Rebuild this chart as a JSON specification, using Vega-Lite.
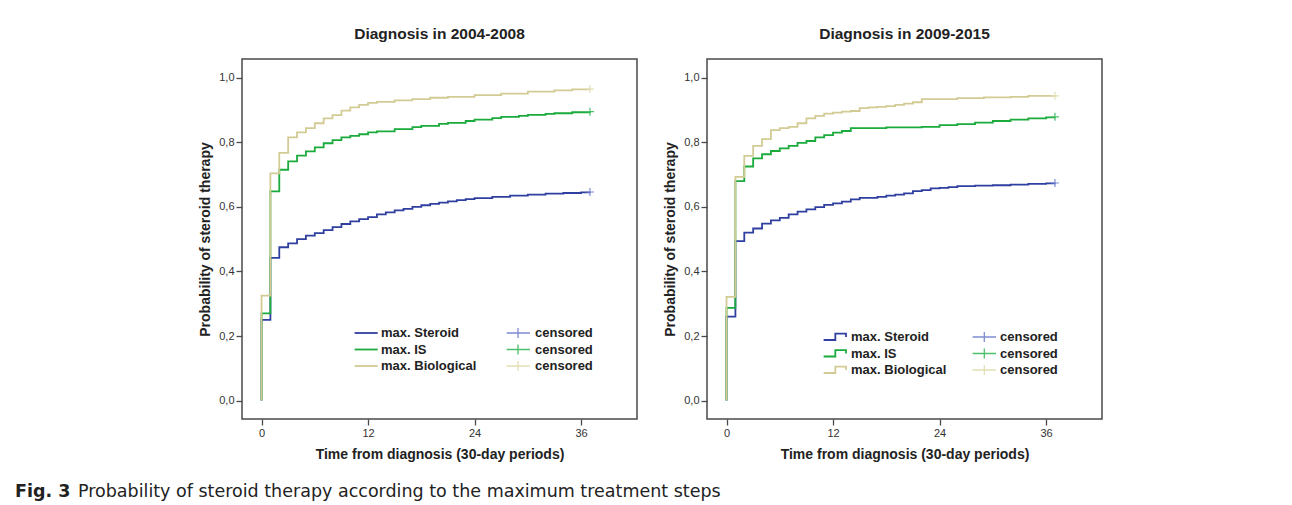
{
  "$schema": "https://vega.github.io/schema/vega-lite/v6.json",
  "padding": {"left": 14, "top": 25, "right": 5, "bottom": 5},
  "background": "white",
  "config": {
    "font": "Liberation Sans",
    "view": {"stroke": "#4a4a4a", "strokeWidth": 1.5},
    "axis": {"domain": false, "grid": false, "tickColor": "#4a4a4a", "tickSize": 6, "tickWidth": 1.3, "labelFont": "Liberation Sans", "labelFontSize": 11, "labelColor": "#333333", "labelPadding": 2, "titleFont": "Liberation Sans", "titleFontSize": 14, "titleFontWeight": "bold", "titleColor": "#222222"},
    "legend": {"padding": 0, "labelFont": "Liberation Sans", "labelFontSize": 13, "labelFontWeight": "bold", "labelColor": "#222222", "title": null, "symbolStrokeWidth": 2, "symbolSize": 144, "rowPadding": 2.5},
    "title": {"font": "Liberation Sans", "fontSize": 15.5, "fontWeight": "bold", "color": "#222222"},
    "line": {"interpolate": "step-after", "strokeWidth": 1.8}
  },
  "datasets": {
    "km": [
      {"p": "2004-2008", "g": "max. Steroid", "t": 0, "v": 0},
      {"p": "2004-2008", "g": "max. Steroid", "t": 0, "v": 0.25},
      {"p": "2004-2008", "g": "max. Steroid", "t": 1, "v": 0.442},
      {"p": "2004-2008", "g": "max. Steroid", "t": 2, "v": 0.475},
      {"p": "2004-2008", "g": "max. Steroid", "t": 3, "v": 0.487},
      {"p": "2004-2008", "g": "max. Steroid", "t": 4, "v": 0.5},
      {"p": "2004-2008", "g": "max. Steroid", "t": 5, "v": 0.511},
      {"p": "2004-2008", "g": "max. Steroid", "t": 6, "v": 0.519},
      {"p": "2004-2008", "g": "max. Steroid", "t": 7, "v": 0.528},
      {"p": "2004-2008", "g": "max. Steroid", "t": 8, "v": 0.537},
      {"p": "2004-2008", "g": "max. Steroid", "t": 9, "v": 0.547},
      {"p": "2004-2008", "g": "max. Steroid", "t": 10, "v": 0.555},
      {"p": "2004-2008", "g": "max. Steroid", "t": 11, "v": 0.562},
      {"p": "2004-2008", "g": "max. Steroid", "t": 12, "v": 0.568},
      {"p": "2004-2008", "g": "max. Steroid", "t": 13, "v": 0.577},
      {"p": "2004-2008", "g": "max. Steroid", "t": 14, "v": 0.583},
      {"p": "2004-2008", "g": "max. Steroid", "t": 15, "v": 0.589},
      {"p": "2004-2008", "g": "max. Steroid", "t": 16, "v": 0.594},
      {"p": "2004-2008", "g": "max. Steroid", "t": 17, "v": 0.6},
      {"p": "2004-2008", "g": "max. Steroid", "t": 18, "v": 0.605},
      {"p": "2004-2008", "g": "max. Steroid", "t": 19, "v": 0.609},
      {"p": "2004-2008", "g": "max. Steroid", "t": 20, "v": 0.613},
      {"p": "2004-2008", "g": "max. Steroid", "t": 21, "v": 0.617},
      {"p": "2004-2008", "g": "max. Steroid", "t": 22, "v": 0.621},
      {"p": "2004-2008", "g": "max. Steroid", "t": 23, "v": 0.624},
      {"p": "2004-2008", "g": "max. Steroid", "t": 24, "v": 0.627},
      {"p": "2004-2008", "g": "max. Steroid", "t": 26, "v": 0.631},
      {"p": "2004-2008", "g": "max. Steroid", "t": 28, "v": 0.635},
      {"p": "2004-2008", "g": "max. Steroid", "t": 30, "v": 0.638},
      {"p": "2004-2008", "g": "max. Steroid", "t": 32, "v": 0.641},
      {"p": "2004-2008", "g": "max. Steroid", "t": 34, "v": 0.643},
      {"p": "2004-2008", "g": "max. Steroid", "t": 36, "v": 0.645},
      {"p": "2004-2008", "g": "max. Steroid", "t": 37, "v": 0.646},
      {"p": "2004-2008", "g": "max. IS", "t": 0, "v": 0},
      {"p": "2004-2008", "g": "max. IS", "t": 0, "v": 0.27},
      {"p": "2004-2008", "g": "max. IS", "t": 1, "v": 0.648},
      {"p": "2004-2008", "g": "max. IS", "t": 2, "v": 0.715},
      {"p": "2004-2008", "g": "max. IS", "t": 3, "v": 0.741},
      {"p": "2004-2008", "g": "max. IS", "t": 4, "v": 0.759},
      {"p": "2004-2008", "g": "max. IS", "t": 5, "v": 0.772},
      {"p": "2004-2008", "g": "max. IS", "t": 6, "v": 0.784},
      {"p": "2004-2008", "g": "max. IS", "t": 7, "v": 0.797},
      {"p": "2004-2008", "g": "max. IS", "t": 8, "v": 0.807},
      {"p": "2004-2008", "g": "max. IS", "t": 9, "v": 0.815},
      {"p": "2004-2008", "g": "max. IS", "t": 10, "v": 0.82},
      {"p": "2004-2008", "g": "max. IS", "t": 11, "v": 0.825},
      {"p": "2004-2008", "g": "max. IS", "t": 12, "v": 0.831},
      {"p": "2004-2008", "g": "max. IS", "t": 13, "v": 0.834},
      {"p": "2004-2008", "g": "max. IS", "t": 15, "v": 0.841},
      {"p": "2004-2008", "g": "max. IS", "t": 17, "v": 0.847},
      {"p": "2004-2008", "g": "max. IS", "t": 18, "v": 0.851},
      {"p": "2004-2008", "g": "max. IS", "t": 20, "v": 0.857},
      {"p": "2004-2008", "g": "max. IS", "t": 21, "v": 0.86},
      {"p": "2004-2008", "g": "max. IS", "t": 23, "v": 0.866},
      {"p": "2004-2008", "g": "max. IS", "t": 24, "v": 0.87},
      {"p": "2004-2008", "g": "max. IS", "t": 26, "v": 0.875},
      {"p": "2004-2008", "g": "max. IS", "t": 27, "v": 0.879},
      {"p": "2004-2008", "g": "max. IS", "t": 29, "v": 0.882},
      {"p": "2004-2008", "g": "max. IS", "t": 30, "v": 0.885},
      {"p": "2004-2008", "g": "max. IS", "t": 32, "v": 0.888},
      {"p": "2004-2008", "g": "max. IS", "t": 33, "v": 0.89},
      {"p": "2004-2008", "g": "max. IS", "t": 35, "v": 0.893},
      {"p": "2004-2008", "g": "max. IS", "t": 37, "v": 0.895},
      {"p": "2004-2008", "g": "max. Biological", "t": 0, "v": 0},
      {"p": "2004-2008", "g": "max. Biological", "t": 0, "v": 0.325},
      {"p": "2004-2008", "g": "max. Biological", "t": 1, "v": 0.704},
      {"p": "2004-2008", "g": "max. Biological", "t": 2, "v": 0.767},
      {"p": "2004-2008", "g": "max. Biological", "t": 3, "v": 0.815},
      {"p": "2004-2008", "g": "max. Biological", "t": 4, "v": 0.831},
      {"p": "2004-2008", "g": "max. Biological", "t": 5, "v": 0.844},
      {"p": "2004-2008", "g": "max. Biological", "t": 6, "v": 0.859},
      {"p": "2004-2008", "g": "max. Biological", "t": 7, "v": 0.874},
      {"p": "2004-2008", "g": "max. Biological", "t": 8, "v": 0.884},
      {"p": "2004-2008", "g": "max. Biological", "t": 9, "v": 0.898},
      {"p": "2004-2008", "g": "max. Biological", "t": 10, "v": 0.908},
      {"p": "2004-2008", "g": "max. Biological", "t": 11, "v": 0.916},
      {"p": "2004-2008", "g": "max. Biological", "t": 12, "v": 0.922},
      {"p": "2004-2008", "g": "max. Biological", "t": 13, "v": 0.925},
      {"p": "2004-2008", "g": "max. Biological", "t": 15, "v": 0.93},
      {"p": "2004-2008", "g": "max. Biological", "t": 17, "v": 0.934},
      {"p": "2004-2008", "g": "max. Biological", "t": 19, "v": 0.938},
      {"p": "2004-2008", "g": "max. Biological", "t": 21, "v": 0.941},
      {"p": "2004-2008", "g": "max. Biological", "t": 24, "v": 0.946},
      {"p": "2004-2008", "g": "max. Biological", "t": 27, "v": 0.951},
      {"p": "2004-2008", "g": "max. Biological", "t": 30, "v": 0.957},
      {"p": "2004-2008", "g": "max. Biological", "t": 33, "v": 0.961},
      {"p": "2004-2008", "g": "max. Biological", "t": 35, "v": 0.964},
      {"p": "2004-2008", "g": "max. Biological", "t": 37, "v": 0.965},
      {"p": "2009-2015", "g": "max. Steroid", "t": 0, "v": 0},
      {"p": "2009-2015", "g": "max. Steroid", "t": 0, "v": 0.26},
      {"p": "2009-2015", "g": "max. Steroid", "t": 1, "v": 0.494},
      {"p": "2009-2015", "g": "max. Steroid", "t": 2, "v": 0.52},
      {"p": "2009-2015", "g": "max. Steroid", "t": 3, "v": 0.533},
      {"p": "2009-2015", "g": "max. Steroid", "t": 4, "v": 0.548},
      {"p": "2009-2015", "g": "max. Steroid", "t": 5, "v": 0.558},
      {"p": "2009-2015", "g": "max. Steroid", "t": 6, "v": 0.566},
      {"p": "2009-2015", "g": "max. Steroid", "t": 7, "v": 0.577},
      {"p": "2009-2015", "g": "max. Steroid", "t": 8, "v": 0.585},
      {"p": "2009-2015", "g": "max. Steroid", "t": 9, "v": 0.592},
      {"p": "2009-2015", "g": "max. Steroid", "t": 10, "v": 0.599},
      {"p": "2009-2015", "g": "max. Steroid", "t": 11, "v": 0.606},
      {"p": "2009-2015", "g": "max. Steroid", "t": 12, "v": 0.611},
      {"p": "2009-2015", "g": "max. Steroid", "t": 13, "v": 0.616},
      {"p": "2009-2015", "g": "max. Steroid", "t": 14, "v": 0.623},
      {"p": "2009-2015", "g": "max. Steroid", "t": 15, "v": 0.628},
      {"p": "2009-2015", "g": "max. Steroid", "t": 17, "v": 0.631},
      {"p": "2009-2015", "g": "max. Steroid", "t": 18, "v": 0.635},
      {"p": "2009-2015", "g": "max. Steroid", "t": 19, "v": 0.638},
      {"p": "2009-2015", "g": "max. Steroid", "t": 20, "v": 0.642},
      {"p": "2009-2015", "g": "max. Steroid", "t": 21, "v": 0.649},
      {"p": "2009-2015", "g": "max. Steroid", "t": 22, "v": 0.652},
      {"p": "2009-2015", "g": "max. Steroid", "t": 23, "v": 0.657},
      {"p": "2009-2015", "g": "max. Steroid", "t": 24, "v": 0.659},
      {"p": "2009-2015", "g": "max. Steroid", "t": 25, "v": 0.661},
      {"p": "2009-2015", "g": "max. Steroid", "t": 26, "v": 0.664},
      {"p": "2009-2015", "g": "max. Steroid", "t": 28, "v": 0.666},
      {"p": "2009-2015", "g": "max. Steroid", "t": 30, "v": 0.667},
      {"p": "2009-2015", "g": "max. Steroid", "t": 32, "v": 0.669},
      {"p": "2009-2015", "g": "max. Steroid", "t": 34, "v": 0.671},
      {"p": "2009-2015", "g": "max. Steroid", "t": 36, "v": 0.673},
      {"p": "2009-2015", "g": "max. Steroid", "t": 37, "v": 0.674},
      {"p": "2009-2015", "g": "max. IS", "t": 0, "v": 0},
      {"p": "2009-2015", "g": "max. IS", "t": 0, "v": 0.287},
      {"p": "2009-2015", "g": "max. IS", "t": 1, "v": 0.68},
      {"p": "2009-2015", "g": "max. IS", "t": 2, "v": 0.725},
      {"p": "2009-2015", "g": "max. IS", "t": 3, "v": 0.75},
      {"p": "2009-2015", "g": "max. IS", "t": 4, "v": 0.763},
      {"p": "2009-2015", "g": "max. IS", "t": 5, "v": 0.773},
      {"p": "2009-2015", "g": "max. IS", "t": 6, "v": 0.781},
      {"p": "2009-2015", "g": "max. IS", "t": 7, "v": 0.789},
      {"p": "2009-2015", "g": "max. IS", "t": 8, "v": 0.798},
      {"p": "2009-2015", "g": "max. IS", "t": 9, "v": 0.804},
      {"p": "2009-2015", "g": "max. IS", "t": 10, "v": 0.815},
      {"p": "2009-2015", "g": "max. IS", "t": 11, "v": 0.822},
      {"p": "2009-2015", "g": "max. IS", "t": 12, "v": 0.83},
      {"p": "2009-2015", "g": "max. IS", "t": 13, "v": 0.835},
      {"p": "2009-2015", "g": "max. IS", "t": 14, "v": 0.844},
      {"p": "2009-2015", "g": "max. IS", "t": 18, "v": 0.846},
      {"p": "2009-2015", "g": "max. IS", "t": 22, "v": 0.848},
      {"p": "2009-2015", "g": "max. IS", "t": 24, "v": 0.853},
      {"p": "2009-2015", "g": "max. IS", "t": 26, "v": 0.856},
      {"p": "2009-2015", "g": "max. IS", "t": 28, "v": 0.861},
      {"p": "2009-2015", "g": "max. IS", "t": 30, "v": 0.866},
      {"p": "2009-2015", "g": "max. IS", "t": 32, "v": 0.87},
      {"p": "2009-2015", "g": "max. IS", "t": 34, "v": 0.874},
      {"p": "2009-2015", "g": "max. IS", "t": 36, "v": 0.877},
      {"p": "2009-2015", "g": "max. IS", "t": 37, "v": 0.879},
      {"p": "2009-2015", "g": "max. Biological", "t": 0, "v": 0},
      {"p": "2009-2015", "g": "max. Biological", "t": 0, "v": 0.321},
      {"p": "2009-2015", "g": "max. Biological", "t": 1, "v": 0.693},
      {"p": "2009-2015", "g": "max. Biological", "t": 2, "v": 0.758},
      {"p": "2009-2015", "g": "max. Biological", "t": 3, "v": 0.789},
      {"p": "2009-2015", "g": "max. Biological", "t": 4, "v": 0.81},
      {"p": "2009-2015", "g": "max. Biological", "t": 5, "v": 0.838},
      {"p": "2009-2015", "g": "max. Biological", "t": 6, "v": 0.844},
      {"p": "2009-2015", "g": "max. Biological", "t": 7, "v": 0.848},
      {"p": "2009-2015", "g": "max. Biological", "t": 8, "v": 0.859},
      {"p": "2009-2015", "g": "max. Biological", "t": 9, "v": 0.874},
      {"p": "2009-2015", "g": "max. Biological", "t": 10, "v": 0.882},
      {"p": "2009-2015", "g": "max. Biological", "t": 11, "v": 0.889},
      {"p": "2009-2015", "g": "max. Biological", "t": 12, "v": 0.892},
      {"p": "2009-2015", "g": "max. Biological", "t": 13, "v": 0.895},
      {"p": "2009-2015", "g": "max. Biological", "t": 14, "v": 0.897},
      {"p": "2009-2015", "g": "max. Biological", "t": 15, "v": 0.906},
      {"p": "2009-2015", "g": "max. Biological", "t": 16, "v": 0.908},
      {"p": "2009-2015", "g": "max. Biological", "t": 17, "v": 0.91},
      {"p": "2009-2015", "g": "max. Biological", "t": 18, "v": 0.912},
      {"p": "2009-2015", "g": "max. Biological", "t": 19, "v": 0.916},
      {"p": "2009-2015", "g": "max. Biological", "t": 20, "v": 0.92},
      {"p": "2009-2015", "g": "max. Biological", "t": 21, "v": 0.924},
      {"p": "2009-2015", "g": "max. Biological", "t": 22, "v": 0.934},
      {"p": "2009-2015", "g": "max. Biological", "t": 26, "v": 0.937},
      {"p": "2009-2015", "g": "max. Biological", "t": 29, "v": 0.939},
      {"p": "2009-2015", "g": "max. Biological", "t": 32, "v": 0.941},
      {"p": "2009-2015", "g": "max. Biological", "t": 34, "v": 0.944},
      {"p": "2009-2015", "g": "max. Biological", "t": 37, "v": 0.944}
    ],
    "cens": [
      {"p": "2004-2008", "c": "Steroid", "t": 37, "v": 0.646},
      {"p": "2004-2008", "c": "IS", "t": 37, "v": 0.895},
      {"p": "2004-2008", "c": "Biological", "t": 37, "v": 0.965},
      {"p": "2009-2015", "c": "Steroid", "t": 37, "v": 0.674},
      {"p": "2009-2015", "c": "IS", "t": 37, "v": 0.879},
      {"p": "2009-2015", "c": "Biological", "t": 37, "v": 0.944}
    ]
  },
  "title": {"text": "Fig. 3", "orient": "bottom", "anchor": "start", "dx": -63, "dy": -17, "offset": 0, "font": "DejaVu Sans", "fontSize": 17.5, "fontWeight": "bold", "color": "#222222"},
  "vconcat": [
    {
      "title": {"text": "Probability of steroid therapy according to the maximum treatment steps", "orient": "bottom", "anchor": "start", "dx": -120, "offset": 21, "font": "DejaVu Sans", "fontSize": 17.5, "fontWeight": "normal", "color": "#222222"},
      "spacing": 24,
      "resolve": {"scale": {"stroke": "independent", "color": "independent"}, "legend": {"stroke": "independent", "color": "independent"}},
      "hconcat": [
        {
          "width": 395,
          "height": 360,
          "title": {"text": "Diagnosis in 2004-2008", "offset": 17},
          "encoding": {
            "x": {"field": "t", "type": "quantitative", "scale": {"domain": [-2.2, 42.3], "nice": false, "zero": false}, "axis": {"values": [0, 12, 24, 36], "title": "Time from diagnosis (30-day periods)", "titlePadding": 9}},
            "y": {"field": "v", "type": "quantitative", "scale": {"domain": [-0.057, 1.058], "nice": false, "zero": false}, "axis": {"values": [0, 0.2, 0.4, 0.6, 0.8, 1], "labelExpr": "replace(format(datum.value, '.1f'), '.', ',')", "title": "Probability of steroid therapy", "titlePadding": 6}}
          },
          "layer": [
            {
              "data": {"name": "km"},
              "transform": [{"filter": "datum.p == '2004-2008' && datum.g == 'max. Steroid'"}],
              "mark": "line",
              "encoding": {"stroke": {"field": "g", "type": "nominal", "sort": null, "scale": {"domain": ["max. Steroid", "max. IS", "max. Biological"], "range": ["#2f3fa0", "#1aab3c", "#d2cb94"]}, "legend": {"orient": "none", "legendX": 123, "legendY": 267, "symbolType": "M-2.9,0L0.95,0", "labelOffset": 2}}}
            },
            {
              "data": {"name": "km"},
              "transform": [{"filter": "datum.p == '2004-2008' && datum.g == 'max. IS'"}],
              "mark": "line",
              "encoding": {"stroke": {"field": "g", "type": "nominal", "sort": null, "scale": {"domain": ["max. Steroid", "max. IS", "max. Biological"], "range": ["#2f3fa0", "#1aab3c", "#d2cb94"]}, "legend": {"orient": "none", "legendX": 123, "legendY": 267, "symbolType": "M-2.9,0L0.95,0", "labelOffset": 2}}}
            },
            {
              "data": {"name": "km"},
              "transform": [{"filter": "datum.p == '2004-2008' && datum.g == 'max. Biological'"}],
              "mark": "line",
              "encoding": {"stroke": {"field": "g", "type": "nominal", "sort": null, "scale": {"domain": ["max. Steroid", "max. IS", "max. Biological"], "range": ["#2f3fa0", "#1aab3c", "#d2cb94"]}, "legend": {"orient": "none", "legendX": 123, "legendY": 267, "symbolType": "M-2.9,0L0.95,0", "labelOffset": 2}}}
            },
            {
              "data": {"name": "cens"},
              "transform": [{"filter": "datum.p == '2004-2008'"}],
              "mark": {"type": "point", "shape": "M-1,0L1,0M0,-1L0,1", "filled": false, "size": 64, "strokeWidth": 1.2, "opacity": 1},
              "encoding": {
                "color": {"field": "c", "type": "nominal", "sort": null, "scale": {"domain": ["Steroid", "IS", "Biological"], "range": ["#7f8cd4", "#4cc06a", "#e3dfb5"]}, "legend": {"orient": "none", "legendX": 275, "legendY": 267, "rowPadding": 0.5, "symbolType": "M-2.9,0L1,0M-1,-0.85L-1,0.85", "symbolStrokeWidth": 1.3, "labelOffset": 4, "labelExpr": "'censored'"}}
              }
            }
          ]
        },
        {
          "width": 395,
          "height": 360,
          "title": {"text": "Diagnosis in 2009-2015", "offset": 17},
          "encoding": {
            "x": {"field": "t", "type": "quantitative", "scale": {"domain": [-2.2, 42.3], "nice": false, "zero": false}, "axis": {"values": [0, 12, 24, 36], "title": "Time from diagnosis (30-day periods)", "titlePadding": 9}},
            "y": {"field": "v", "type": "quantitative", "scale": {"domain": [-0.057, 1.058], "nice": false, "zero": false}, "axis": {"values": [0, 0.2, 0.4, 0.6, 0.8, 1], "labelExpr": "replace(format(datum.value, '.1f'), '.', ',')", "title": "Probability of steroid therapy", "titlePadding": 6}}
          },
          "layer": [
            {
              "data": {"name": "km"},
              "transform": [{"filter": "datum.p == '2009-2015' && datum.g == 'max. Steroid'"}],
              "mark": "line",
              "encoding": {"stroke": {"field": "g", "type": "nominal", "sort": null, "scale": {"domain": ["max. Steroid", "max. IS", "max. Biological"], "range": ["#2f3fa0", "#1aab3c", "#d2cb94"]}, "legend": {"orient": "none", "legendX": 126, "legendY": 271, "symbolType": "M-2.73,0.5L-0.78,0.5L-0.78,-0.55L1,-0.55L1,0", "symbolStrokeWidth": 1.8, "labelOffset": 4}}}
            },
            {
              "data": {"name": "km"},
              "transform": [{"filter": "datum.p == '2009-2015' && datum.g == 'max. IS'"}],
              "mark": "line",
              "encoding": {"stroke": {"field": "g", "type": "nominal", "sort": null, "scale": {"domain": ["max. Steroid", "max. IS", "max. Biological"], "range": ["#2f3fa0", "#1aab3c", "#d2cb94"]}, "legend": {"orient": "none", "legendX": 126, "legendY": 271, "symbolType": "M-2.73,0.5L-0.78,0.5L-0.78,-0.55L1,-0.55L1,0", "symbolStrokeWidth": 1.8, "labelOffset": 4}}}
            },
            {
              "data": {"name": "km"},
              "transform": [{"filter": "datum.p == '2009-2015' && datum.g == 'max. Biological'"}],
              "mark": "line",
              "encoding": {"stroke": {"field": "g", "type": "nominal", "sort": null, "scale": {"domain": ["max. Steroid", "max. IS", "max. Biological"], "range": ["#2f3fa0", "#1aab3c", "#d2cb94"]}, "legend": {"orient": "none", "legendX": 126, "legendY": 271, "symbolType": "M-2.73,0.5L-0.78,0.5L-0.78,-0.55L1,-0.55L1,0", "symbolStrokeWidth": 1.8, "labelOffset": 4}}}
            },
            {
              "data": {"name": "cens"},
              "transform": [{"filter": "datum.p == '2009-2015'"}],
              "mark": {"type": "point", "shape": "M-1,0L1,0M0,-1L0,1", "filled": false, "size": 64, "strokeWidth": 1.2, "opacity": 1},
              "encoding": {
                "color": {"field": "c", "type": "nominal", "sort": null, "scale": {"domain": ["Steroid", "IS", "Biological"], "range": ["#7f8cd4", "#4cc06a", "#e3dfb5"]}, "legend": {"orient": "none", "legendX": 276, "legendY": 271, "rowPadding": 0.5, "symbolType": "M-2.9,0L1,0M-0.95,-0.85L-0.95,0.85", "symbolStrokeWidth": 1.3, "labelOffset": 3, "labelExpr": "'censored'"}}
              }
            }
          ]
        }
      ]
    }
  ]
}
